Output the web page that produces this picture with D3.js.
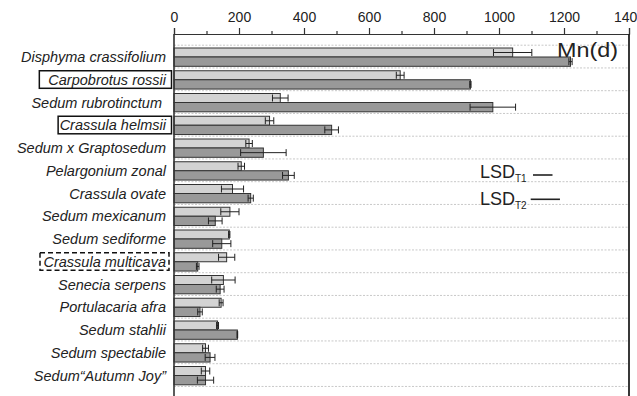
<!DOCTYPE html>
<html><head><meta charset="utf-8">
<script src="https://cdn.jsdelivr.net/npm/d3@7"></script>
<style>
body{margin:0;background:#fff;}
svg{display:block;font-family:"Liberation Sans",Arial,sans-serif;}
</style></head>
<body><svg id="c" width="637" height="396"></svg>
<script>
const categories = ["Disphyma crassifolium","Carpobrotus rossii","Sedum rubrotinctum ","Crassula helmsii","Sedum x Graptosedum","Pelargonium zonal","Crassula ovate","Sedum mexicanum","Sedum sediforme","Crassula multicava","Senecia serpens","Portulacaria afra","Sedum stahlii","Sedum spectabile","Sedum\u201cAutumn Joy\u201d"];
const t1Values = [1042, 696, 327, 294, 231, 207, 180, 172, 170, 162, 152, 145, 134, 97, 97];
const t1Errors = [59, 12, 24, 13, 10, 10, 34, 28, 2, 25, 36, 6, 3, 9, 13];
const t2Values = [1220, 912, 981, 485, 275, 352, 236, 127, 147, 73, 142, 80, 195, 111, 97];
const t2Errors = [5, 2, 70, 21, 70, 18, 8, 21, 28, 4, 12, 7, 1, 15, 25];
const majorTicks = [0, 200, 400, 600, 800, 1000, 1200, 1400];
const minorTicks = [100, 300, 500, 700, 900, 1100, 1300];
const lsdLabels = ["T1", "T2"];
const lsdValues = [60, 90];
const boxedSolid = ["Carpobrotus rossii", "Crassula helmsii"];
const boxedDashed = ["Crassula multicava"];
const panelLabel = "Mn(d)";

(function() {
const svg = d3.select("#c");
const pL = 174, pR = 629, pT = 34, pB = 396;
const x = d3.scaleLinear().domain([0, 1400]).range([pL, pR]);
const step = 22.75, y0 = 45.2;
const y = d3.scaleBand().domain(categories).range([y0, y0 + step * categories.length]).paddingInner(0).paddingOuter(0);

// grid lines (band boundaries)
const bounds = d3.range(categories.length + 1).map(i => y0 + i * step);
svg.append("g").selectAll("line").data(bounds).join("line")
  .attr("x1", pL).attr("x2", pR).attr("y1", d => d).attr("y2", d => d)
  .attr("stroke", "#c8c8c8").attr("stroke-width", 1).attr("stroke-dasharray", "2,1.5");

// bars
const series = [
  {vals: t1Values, errs: t1Errors, fill: "#d3d3d3", off: 2.8, h: 9},
  {vals: t2Values, errs: t2Errors, fill: "#999999", off: 11.8, h: 9.3}
];
series.forEach(s => {
  const g = svg.append("g");
  g.selectAll("rect").data(categories).join("rect")
    .attr("x", x(0)).attr("y", d => y(d) + s.off)
    .attr("width", (d, i) => x(s.vals[i]) - x(0)).attr("height", s.h)
    .attr("fill", s.fill).attr("stroke", "#333").attr("stroke-width", 1);
  const e = svg.append("g").attr("stroke", "#222").attr("stroke-width", 1);
  categories.forEach((c, i) => {
    const cy = y(c) + s.off + s.h / 2;
    const lo = x(s.vals[i] - s.errs[i]), hi = x(s.vals[i] + s.errs[i]);
    e.append("line").attr("x1", lo).attr("x2", hi).attr("y1", cy).attr("y2", cy);
    [lo, hi].forEach(px => e.append("line").attr("x1", px).attr("x2", px)
      .attr("y1", cy - 3.5).attr("y2", cy + 3.5));
  });
});

// top axis
const axMajor = d3.axisTop(x).tickValues(majorTicks).tickSize(6).tickPadding(6).tickFormat(d3.format("d"));
const gA = svg.append("g").attr("transform", `translate(0,${pT})`).call(axMajor);
gA.select(".domain").attr("stroke", "#333").attr("stroke-width", 1.2);
gA.selectAll(".tick line").attr("stroke", "#333").attr("stroke-width", 1.2);
gA.selectAll(".tick text").attr("font-size", 14).attr("fill", "#222")
  .attr("font-family", "'Liberation Sans',Arial,sans-serif");
const axMinor = d3.axisTop(x).tickValues(minorTicks).tickSize(3).tickFormat("");
const gM = svg.append("g").attr("transform", `translate(0,${pT})`).call(axMinor);
gM.select(".domain").remove();
gM.selectAll(".tick line").attr("stroke", "#333").attr("stroke-width", 1.2);

// frame lines
svg.append("line").attr("x1", pL).attr("x2", pL).attr("y1", pT).attr("y2", pB)
  .attr("stroke", "#333").attr("stroke-width", 1.6);
svg.append("line").attr("x1", pR).attr("x2", pR).attr("y1", pT).attr("y2", pB)
  .attr("stroke", "#222").attr("stroke-width", 1.8);

// category labels
const labG = svg.append("g");
const labels = labG.selectAll("text").data(categories).join("text")
  .attr("x", 166).attr("y", d => y(d) + step / 2 + 0.5)
  .attr("text-anchor", "end").attr("dominant-baseline", "central")
  .attr("font-size", 14.5).attr("font-style", "italic").attr("fill", "#222")
  .style("white-space", "pre")
  .text(d => d);

// boxes around highlighted labels
const padLeft = {"Carpobrotus rossii": 9, "Crassula helmsii": 1.5, "Crassula multicava": 3.5};
labels.each(function(d) {
  const solid = boxedSolid.includes(d), dashed = boxedDashed.includes(d);
  if (!solid && !dashed) return;
  const bb = this.getBBox();
  const bx = bb.x - padLeft[d];
  const bx2 = dashed ? 169 : 171.5;
  labG.append("rect")
    .attr("x", bx).attr("y", y(d) + 2.8)
    .attr("width", bx2 - bx).attr("height", step - 5.2)
    .attr("fill", "none").attr("stroke", "#111")
    .attr("stroke-width", 1.5)
    .attr("stroke-dasharray", dashed ? "5,3" : null);
});

// panel label
svg.append("text").attr("x", 557).attr("y", 56.8).attr("font-size", 20)
  .attr("fill", "#222").attr("textLength", 61).attr("lengthAdjust", "spacingAndGlyphs")
  .text(panelLabel);

// LSD legend
const lsdBase = [178.3, 204.5];
const lsdLineStart = [533, 530.7];
const lsdLineY = [175, 199.3];
lsdLabels.forEach((lab, i) => {
  const t = svg.append("text").attr("x", 480).attr("y", lsdBase[i])
    .attr("font-size", 18).attr("fill", "#222");
  t.append("tspan").text("LSD");
  t.append("tspan").attr("font-size", 10).attr("dy", 4).text(lab);
  const lx = lsdLineStart[i];
  svg.append("line").attr("x1", lx).attr("x2", lx + (x(lsdValues[i]) - x(0)))
    .attr("y1", lsdLineY[i]).attr("y2", lsdLineY[i])
    .attr("stroke", "#222").attr("stroke-width", 1.6);
});
})();
</script></body></html>
